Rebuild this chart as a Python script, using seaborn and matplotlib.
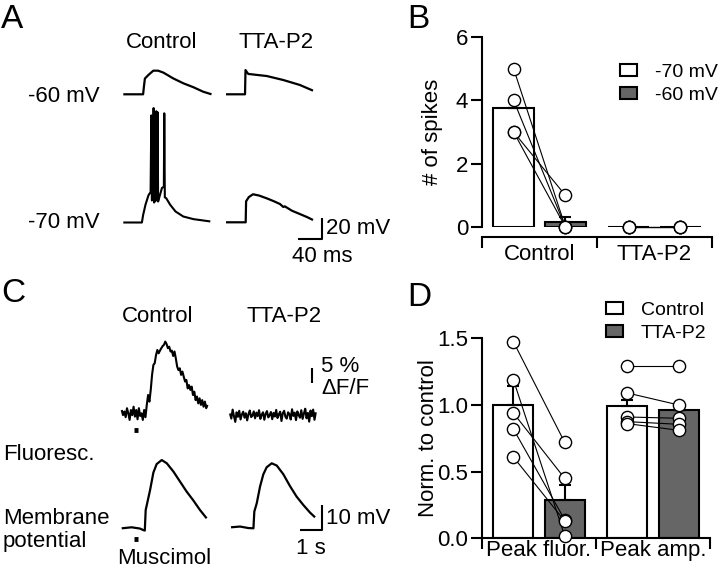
import numpy as np
import pandas as pd
import seaborn as sns
import matplotlib.pyplot as plt
from matplotlib.patches import Patch

W, H = 720, 570
DARK = "#666666"

# ---------------- Panel A: current-clamp traces (ms, mV above holding) ----------------
a_ctrl_m60_t = [0, 33, 34.5, 36, 42, 50, 58, 67, 83, 100, 117, 133, 147]
a_ctrl_m60_v = [0, 0, 8, 15, 18.5, 22.5, 22.5, 20.6, 15.2, 10.5, 6.7, 2.5, 0]
a_tta_m60_t = [0, 31.7, 32.5, 37, 68, 95.5, 123, 145]
a_tta_m60_v = [0, 0, 23.1, 19.4, 17.4, 13.6, 8.9, 3.5]
a_ctrl_m70_t = [0, 31, 33, 37, 42, 45.5, 46.7, 47.6, 49.8, 50.5, 51.3, 54.3, 55, 55.8,
                56.6, 57.2, 58, 60, 64.5, 67.6, 68.3, 69.2, 71.7, 78, 87, 100, 117, 145]
a_ctrl_m70_v = [0, 0, 7, 17, 26, 29, 102, 21, 22, 109, 19, 22, 106, 21,
                22, 105, 20, 24, 33, 34, 104, 24, 23, 17, 10.5, 5.7, 3.2, 1]
a_tta_m70_t = [0, 32.8, 33.5, 38, 45, 55, 68, 80, 90, 95.5, 98, 110, 123, 135, 145]
a_tta_m70_v = [0, 0, 20, 24, 26.7, 25.5, 22.8, 20, 17.4, 14.6, 15.2, 11, 7.9, 5, 2.2]

# ---------------- Panel C: imaging + Vm (s, % dF/F, mV) ----------------
fluor_dt = 0.06  # sampling interval of the fluorescence traces (s)
c_ctrl_fluor = [1.1, -0.6, 0.6, -1.3, 1.7, 0, -2.2, 1.1, -0.6, 2.2, -1.1, 1.1, -2.0, 1.7,
                -0.9, 0, -2.2, 1.1, -1.3, 2.8, 6.1, 3.9, 7.8, 12.8, 16.1, 16.7, 19.4, 21.1,
                20.0, 20.9, 21.7, 22.4, 22.8, 23.9, 23.1, 21.7, 22.2, 20.6, 20.9, 19.1, 20.6,
                18.3, 15.6, 14.4, 15.0, 12.8, 13.9, 12.2, 10.6, 11.1, 8.3, 9.4, 7.8, 8.9, 6.1,
                7.2, 4.4, 5.6, 3.3, 5.0, 2.8, 4.4, 2.2, 3.9, 1.7, 2.8]
c_tta_fluor = [0.5, -1.2, 1.8, -0.4, -2.3, 0.9, -0.6, 1.4, -1.5, 0.2, 1.1, -0.9, 0.6, -1.8,
               0.3, 1.5, -0.7, -0.2, 1.2, -1.1, 0.8, -0.4, 1.6, -1.3, 0.1, 0.9, -1.6, 0.4,
               1.3, -0.8, -0.1, 1.0, -1.4, 0.7, -0.5, 1.7, -1.0, 0.2, 1.1, -2.0, 0.6, 1.4,
               -0.6, -1.2, 0.9, 0.3, -1.5, 1.9, -0.3, 0.8, -1.7, 1.2, 0.0, -0.9, 1.6, -1.3,
               0.5, 2.1, -1.1, 0.7, -2.2, 1.5, -0.4, 1.8, -1.6, 0.9]
c_ctrl_vm_t = [0, 0.45, 0.83, 0.98, 1.05, 1.09, 1.14, 1.29, 1.44, 1.59, 1.82, 2.05, 2.35,
               2.65, 2.95, 3.26, 3.56, 3.86]
c_ctrl_vm_v = [0, 0.4, -0.1, -0.7, -0.9, 7.3, 9.3, 15.3, 22.3, 25.7, 27.3, 26, 22.7,
               18.7, 14.7, 11.1, 7.3, 4]
c_tta_vm_t = [0, 0.41, 0.79, 1.02, 1.06, 1.17, 1.32, 1.47, 1.62, 1.85, 2.08, 2.38, 2.68,
              2.98, 3.29, 3.59, 3.82]
c_tta_vm_v = [0, 0.3, -0.3, -0.4, 6.3, 9.6, 16.3, 21.2, 24, 25.6, 24.7, 21.2, 16.5,
              12.3, 8.9, 5.9, 4]
muscimol_on, muscimol_dur = 0.55, 0.2

# ---------------- Panel B: spike counts ----------------
b_groups = ["Control", "TTA-P2"]
b_levels = ["-70 mV", "-60 mV"]
b_mean_70 = [3.75, 0.0]
b_mean_60 = [0.17, 0.0]
b_sem_60 = [0.16, 0.0]
b_cells_70 = [[5, 4, 3, 3], [0, 0, 0, 0]]
b_cells_60 = [[0, 0, 1, 0], [0, 0, 0, 0]]

# ---------------- Panel D: normalised peaks ----------------
d_groups = ["Peak fluor.", "Peak amp."]
d_conds = ["Control", "TTA-P2"]
d_mean_ctrl = [1.0, 0.99]
d_mean_tta = [0.29, 0.96]
d_err_ctrl = [0.14, 0.05]
d_err_tta = [0.11, 0.0]
d_cells_ctrl = [[1.475, 1.19, 0.94, 0.82, 0.61], [1.29, 1.09, 0.91, 0.875, 0.86]]
d_cells_tta = [[0.72, 0.02, 0.45, 0.14, 0.13], [1.29, 1.0, 0.90, 0.855, 0.81]]

FS = 16
sns.set_style("ticks", rc={"axes.edgecolor": "k", "text.color": "k", "axes.labelcolor": "k",
                           "xtick.color": "k", "ytick.color": "k"})
plt.rcParams["font.family"] = ["Liberation Sans", "DejaVu Sans"]
plt.rcParams["font.size"] = FS

fig = plt.figure(figsize=(W / 100, H / 100), dpi=100)


def ftext(px, py, s, **kw):
    kw.setdefault("va", "center")
    fig.text(px / W, 1 - py / H, s, **kw)


# overlay for the traces of A and C, in pixel units
tr = fig.add_axes([0, 0, 360 / W, 1])
tr.set_xlim(0, 360)
tr.set_ylim(H, 0)
tr.axis("off")


def trace(t, v, x0, y0, x_per_px, y_per_px, lw=1.6):
    x = x0 + np.asarray(t, float) / x_per_px
    y = y0 - np.asarray(v, float) / y_per_px
    tr.plot(x, y, color="k", lw=lw, solid_joinstyle="round", solid_capstyle="butt")


# A
ms_px, mv_px = 40 / 24, 20 / 21
trace(a_ctrl_m60_t, a_ctrl_m60_v, 123.3, 94.3, ms_px, mv_px)
trace(a_tta_m60_t, a_tta_m60_v, 226, 94.3, ms_px, mv_px)
trace(a_ctrl_m70_t, a_ctrl_m70_v, 123.3, 222.5, ms_px, mv_px, lw=1.5)
trace(a_tta_m70_t, a_tta_m70_v, 226, 222.3, ms_px, mv_px)
trace([-40, 0, 0], [0, 0, 20], 322, 239, ms_px, mv_px, lw=1.5)

# C
s_px, pct_px, cmv_px = 1 / 22, 5 / 15, 10 / 25
t_f = np.arange(len(c_ctrl_fluor)) * fluor_dt
trace(t_f, c_ctrl_fluor, 121.7, 413.3, s_px, pct_px, lw=1.5)
trace(np.arange(len(c_tta_fluor)) * fluor_dt, c_tta_fluor, 230, 415, s_px, pct_px, lw=1.5)
trace(c_ctrl_vm_t, c_ctrl_vm_v, 121.7, 528.3, s_px, cmv_px)
trace(c_tta_vm_t, c_tta_vm_v, 231, 527.3, s_px, cmv_px)
trace([0, 0], [0, 5], 312, 383, s_px, pct_px, lw=1.5)
trace([-1, 0, 0], [0, 0, 10], 322, 530, s_px, cmv_px, lw=1.5)
for y0 in (430, 538.5):
    trace([muscimol_on, muscimol_on + muscimol_dur], [0, 0], 121.7, y0, s_px, 1, lw=3.5)

# labels of A and C
ftext(1, 19, "A", size=24)
ftext(162, 43, "Control", ha="center")
ftext(276, 43, "TTA-P2", ha="center")
ftext(100, 96, "-60 mV", ha="right")
ftext(100, 223, "-70 mV", ha="right")
ftext(326, 229, "20 mV", ha="left")
ftext(322, 256, "40 ms", ha="center")
ftext(1, 293, "C", size=24)
ftext(158, 316, "Control", ha="center")
ftext(284, 316, "TTA-P2", ha="center")
ftext(3, 454, "Fluoresc.", ha="left")
ftext(3, 518, "Membrane", ha="left")
ftext(3, 541, "potential", ha="left")
ftext(164, 559, "Muscimol", ha="center")
ftext(321, 366, "5 %", ha="left")
ftext(321, 388, "ΔF/F", ha="left")
ftext(326, 518, "10 mV", ha="left")
ftext(311, 549, "1 s", ha="center")
ftext(407, 19, "B", size=24)
ftext(407, 297, "D", size=24)

OFF = 0.225  # hue offset for width=0.9 with two hue levels


def bar_panel(ax, groups, levels, means, errs, cells, colors):
    df = pd.DataFrame({"group": list(groups) * 2,
                       "level": np.repeat(levels, len(groups)),
                       "value": means[0] + means[1]})
    sns.barplot(data=df, x="group", y="value", hue="level", order=groups, hue_order=levels,
                palette=dict(zip(levels, colors)), edgecolor="k", linewidth=1.5,
                width=0.9, gap=0.22, errorbar=None, legend=False, ax=ax, zorder=1)
    for k, (m, e) in enumerate(zip(means, errs)):
        xs = np.arange(len(groups)) + (-OFF if k == 0 else OFF)
        ax.errorbar(xs, m, yerr=[np.zeros(len(e)), e], fmt="none", ecolor="k",
                    elinewidth=1.5, capsize=4, capthick=1.5, zorder=2)
    for g in range(len(groups)):
        for a, b in zip(cells[0][g], cells[1][g]):
            ax.plot([g - OFF, g + OFF], [a, b], color="k", lw=0.8, zorder=3, clip_on=False)
        for k in range(2):
            xs = np.full(len(cells[k][g]), g + (-OFF if k == 0 else OFF))
            ax.plot(xs, cells[k][g], "o", ms=8.8, mfc="white", mec="k", mew=1.0,
                    zorder=4, clip_on=False)
    ax.set_xlim(-0.5, 1.5)
    ax.set_xticks([-0.5, 0.5, 1.5])
    ax.set_xticklabels([])
    ax.set_xticks([0, 1], minor=True)
    ax.set_xticklabels(groups, minor=True)
    ax.set_xlabel("")
    sns.despine(ax=ax)
    for s in ("left", "bottom"):
        ax.spines[s].set_linewidth(1.5)
    ax.tick_params(which="major", length=8, width=1.5, labelsize=FS, pad=2)
    ax.tick_params(axis="x", which="minor", length=0, labelsize=FS)


def legend(ax, labels, px, py):
    ax.legend(handles=[Patch(facecolor=c, edgecolor="k", lw=1.5) for c in ["white", DARK]],
              labels=labels, loc="upper left", bbox_to_anchor=(px / W, 1 - py / H),
              bbox_transform=fig.transFigure, frameon=False, fontsize=14, handlelength=0.85,
              handleheight=0.6, handletextpad=0.95, labelspacing=0.3, borderpad=0,
              borderaxespad=0)


# B
ax_b = fig.add_axes([482 / W, 1 - 227 / H, 230 / W, 190 / H])
bar_panel(ax_b, b_groups, b_levels, [b_mean_70, b_mean_60], [[0, 0], b_sem_60],
          [b_cells_70, b_cells_60], ["white", DARK])
ax_b.set_ylim(0, 6)
ax_b.set_yticks([0, 2, 4, 6])
ax_b.spines["bottom"].set_position(("outward", 7.2))
ax_b.tick_params(axis="x", which="minor", pad=5)
ax_b.set_ylabel("# of spikes", fontsize=FS)
ax_b.yaxis.set_label_coords(-0.17, 0.5)
legend(ax_b, b_levels, 620, 64)

# D
ax_d = fig.add_axes([482 / W, 1 - 538.3 / H, 228 / W, 200 / H])
bar_panel(ax_d, d_groups, d_conds, [d_mean_ctrl, d_mean_tta], [d_err_ctrl, d_err_tta],
          [d_cells_ctrl, d_cells_tta], ["white", DARK])
ax_d.set_ylim(0, 1.5)
ax_d.set_yticks([0, 0.5, 1.0, 1.5])
ax_d.set_yticklabels(["0.0", "0.5", "1.0", "1.5"])
ax_d.tick_params(axis="x", which="minor", pad=1)
ax_d.set_ylabel("Norm. to control", fontsize=FS)
ax_d.yaxis.set_label_coords(-0.19, 0.5)
legend(ax_d, d_conds, 606, 302)

fig.savefig("out.png", dpi=100)
